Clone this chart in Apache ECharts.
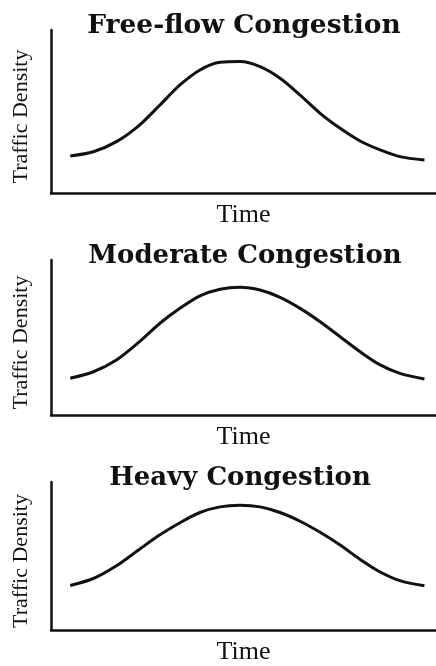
<!DOCTYPE html>
<html>
<head>
<meta charset="utf-8">
<script src="https://cdn.jsdelivr.net/npm/echarts@6/dist/echarts.min.js"></script>
<style>html,body{margin:0;padding:0;background:#fff}#c{width:436px;height:666px}</style>
</head>
<body>
<div id="c"></div>
<script>
const panelTitles = ['Free-flow Congestion', 'Moderate Congestion', 'Heavy Congestion'];
const xName = 'Time';
const yName = 'Traffic Density';
const timeSteps = [5, 11, 17, 23, 28.3, 33.5, 38.7, 43.9, 49.1, 54.3, 59.5, 64.7, 69.9, 75.1, 80.3, 85.5, 90.6, 97];
const freeFlow = [22.7, 25.3, 31.5, 41.7, 54.0, 66.3, 75.5, 80.2, 80.6, 77.5, 70.4, 60.1, 48.9, 39.7, 31.9, 26.4, 22.3, 20.2];
const moderate = [23.7, 27.9, 35.5, 47.3, 59.2, 68.8, 76.8, 81.1, 82.4, 80.6, 75.9, 68.8, 60.2, 50.5, 40.8, 32.3, 26.9, 23.2];
const heavy = [30.1, 34.8, 43.4, 54.6, 64.3, 72.5, 79.4, 83.2, 84.3, 83.2, 79.4, 73.5, 66.0, 57.4, 47.7, 39.2, 33.4, 29.9];
const seriesValues = [freeFlow, moderate, heavy];

const grids = [
  {left: 51, right: 0, top: 30, height: 163},
  {left: 51, right: 0, top: 260, height: 155},
  {left: 51, right: 0, top: 482, height: 155}
];
const titlePos = [{x: 244, y: 13, size: 26.5}, {x: 245, y: 243, size: 26}, {x: 240, y: 465, size: 26}];
const ink = '#111';

const option = {
  backgroundColor: '#fff',
  animation: false,
  title: panelTitles.map((t, i) => ({
    text: t,
    left: titlePos[i].x,
    top: titlePos[i].y,
    textAlign: 'center',
    padding: 0,
    textStyle: {fontFamily: 'DejaVu Serif', fontWeight: 'bold', fontSize: titlePos[i].size, color: ink}
  })),
  grid: grids,
  xAxis: grids.map((g, i) => ({
    type: 'value', gridIndex: i, min: 0, max: 100,
    name: xName, nameLocation: 'middle', nameGap: 9,
    nameTextStyle: {fontFamily: 'Liberation Serif', fontSize: 26, color: ink},
    axisLine: {show: true, lineStyle: {color: ink, width: 2.5}},
    axisTick: {show: false}, axisLabel: {show: false}, splitLine: {show: false}
  })),
  yAxis: grids.map((g, i) => ({
    type: 'value', gridIndex: i, min: 0, max: 100,
    name: yName, nameLocation: 'middle', nameGap: 19, nameRotate: 90,
    nameTextStyle: {fontFamily: 'Liberation Serif', fontSize: 22, color: ink, padding: [0, 10, 0, 0]},
    axisLine: {show: true, lineStyle: {color: ink, width: 2.5}},
    axisTick: {show: false}, axisLabel: {show: false}, splitLine: {show: false}
  })),
  series: seriesValues.map((vals, i) => ({
    type: 'line', xAxisIndex: i, yAxisIndex: i,
    data: timeSteps.map((t, j) => [t, vals[j]]),
    smooth: 0.3, showSymbol: false,
    lineStyle: {color: ink, width: 3}
  }))
};
echarts.init(document.getElementById('c')).setOption(option);
</script>
</body>
</html>
